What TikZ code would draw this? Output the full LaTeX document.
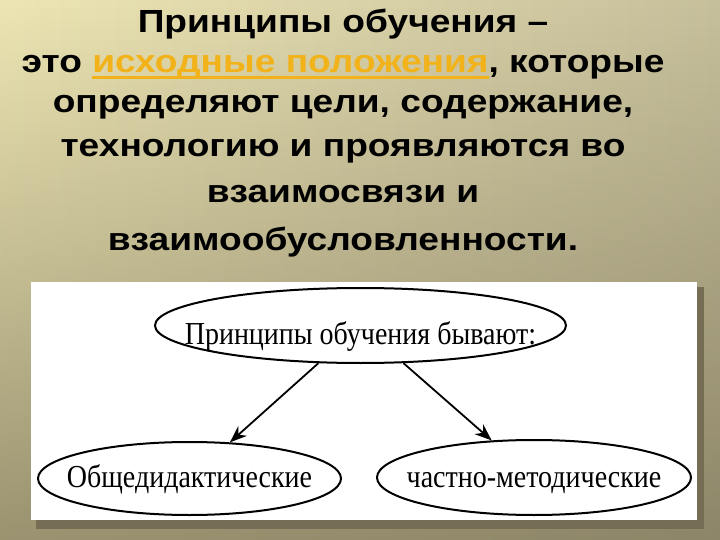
\documentclass[tikz,border=0pt]{standalone}
\usepackage{fontspec}
\setmainfont[FakeStretch=0.875]{Liberation Serif}
\newfontfamily\headfont[FakeStretch=1.16]{Liberation Sans}
\usetikzlibrary{shapes,arrows,arrows.meta,positioning,calc,fadings}

\definecolor{hlcol}{RGB}{242,178,26}
\definecolor{bgdark}{RGB}{110,102,76}
\definecolor{boxshadow}{RGB}{118,110,84}
\pgfdeclarehorizontalshading{slidebg}{100bp}{rgb(0bp)=(.85,.81,.62); rgb(22bp)=(.94,.91,.71); rgb(55bp)=(.84,.81,.65); rgb(100bp)=(.70,.68,.56)}
\tikzfading[name=fadebottom, top color=transparent!100, bottom color=transparent!35]

% underlined highlight in the title
\newcommand\hlword[1]{{\color{hlcol}\setbox0\hbox{#1}\rlap{\rule[-6pt]{\wd0}{3pt}}\box0}}

\begin{document}
\begin{tikzpicture}[x=1pt, y=-1pt,
    head/.style={font=\headfont\bfseries\fontsize{32}{38}\selectfont, inner sep=0, anchor=base},
    kind/.style={ellipse, draw, line width=2pt, inner sep=0, text depth=0pt, font=\fontsize{32}{36}\selectfont},
    arrow/.style={->, line width=1.8pt, >={Stealth[length=17pt, width=13pt]}}]

    % slide background
    \shade[shading=slidebg] (0,0) rectangle (720,540);
    \fill[bgdark, path fading=fadebottom] (0,0) rectangle (720,540);

    % title
    \foreach \y/\txt in {33/{Принципы обучения –},
                         73/{это \hlword{исходные положения}, которые},
                         113/{определяют цели, содержание,},
                         157/{технологию и проявляются во},
                         203/{взаимосвязи и},
                         250/{взаимообусловленности.}} {
        \node[head] (line\y) at (343, \y) {\txt};
    }

    % white panel
    \fill[boxshadow] (36,287) rectangle (704,529);
    \fill[white] (31,282) rectangle (697,520);

    \node[kind, minimum width=411pt, minimum height=75pt, text height=37pt] (kinds) at (360.5,325.5)
        {\makebox[0pt]{Принципы обучения бывают:}};
    \node[kind, minimum width=303pt, minimum height=73pt, text height=17pt] (gen) at (189.5,478.5)
        {\makebox[0pt]{Общедидактические}};
    \node[kind, minimum width=314pt, minimum height=75pt, text height=19pt] (spec) at (534,477.5)
        {\makebox[0pt]{частно-методические}};

    \draw[arrow] (kinds) -- (gen);
    \draw[arrow] (kinds) -- (spec);
\end{tikzpicture}
\end{document}
